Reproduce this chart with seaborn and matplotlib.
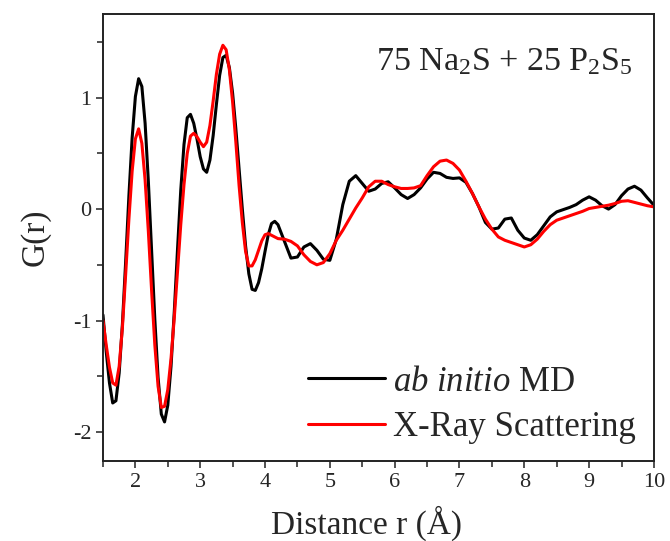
import numpy as np
import pandas as pd
import matplotlib
matplotlib.use("Agg")
import matplotlib.pyplot as plt
import seaborn as sns
from matplotlib.ticker import MultipleLocator

# Distance grid r (Å)
r = [1.50, 1.55, 1.60, 1.65, 1.70, 1.75, 1.80, 1.85, 1.90, 1.95,
     2.00, 2.05, 2.10, 2.15, 2.20, 2.25, 2.30, 2.35, 2.40, 2.45,
     2.50, 2.55, 2.60, 2.65, 2.70, 2.75, 2.80, 2.85, 2.90, 2.95,
     3.00, 3.05, 3.10, 3.15, 3.20, 3.25, 3.30, 3.35, 3.40, 3.45,
     3.50, 3.55, 3.60, 3.65, 3.70, 3.75, 3.80, 3.85, 3.90, 3.95,
     4.00, 4.05, 4.10, 4.15, 4.20,
     4.3, 4.4, 4.5, 4.6, 4.7, 4.8, 4.9, 5.0, 5.1, 5.2, 5.3, 5.4, 5.5,
     5.6, 5.7, 5.8, 5.9, 6.0, 6.1, 6.2, 6.3, 6.4, 6.5, 6.6, 6.7, 6.8,
     6.9, 7.0, 7.1, 7.2, 7.3, 7.4, 7.5, 7.6, 7.7, 7.8, 7.9, 8.0, 8.1,
     8.2, 8.3, 8.4, 8.5, 8.6, 8.7, 8.8, 8.9, 9.0, 9.1, 9.2, 9.3, 9.4,
     9.5, 9.6, 9.7, 9.8, 9.9, 10.0]

# ab initio MD G(r)
g_md = [-0.95, -1.28, -1.56, -1.74, -1.72, -1.47, -1.03, -0.47, 0.12, 0.64,
        1.01, 1.17, 1.10, 0.77, 0.25, -0.37, -0.99, -1.51, -1.84, -1.91,
        -1.76, -1.41, -0.92, -0.36, 0.17, 0.58, 0.82, 0.85, 0.77, 0.63,
        0.47, 0.36, 0.33, 0.44, 0.66, 0.94, 1.20, 1.36, 1.38, 1.27,
        1.04, 0.72, 0.36, 0.00, -0.33, -0.58, -0.72, -0.73, -0.66, -0.535,
        -0.38, -0.23, -0.13, -0.11, -0.14,
        -0.29, -0.44, -0.43, -0.34, -0.31, -0.37, -0.45, -0.46, -0.27, 0.04,
        0.25, 0.30, 0.23, 0.16, 0.18, 0.23, 0.245, 0.19, 0.13, 0.095,
        0.13, 0.19, 0.27, 0.33, 0.32, 0.285, 0.275, 0.28, 0.24, 0.14,
        0.02, -0.12, -0.18, -0.17, -0.09, -0.08, -0.19, -0.26, -0.28, -0.23,
        -0.15, -0.07, -0.025, -0.005, 0.015, 0.04, 0.08, 0.11, 0.08, 0.03,
        0.0, 0.04, 0.12, 0.18, 0.205, 0.17, 0.10, 0.035]

# X-ray scattering G(r)
g_xray = [-1.00, -1.22, -1.42, -1.56, -1.58, -1.41, -1.06, -0.585, -0.09, 0.34,
          0.63, 0.72, 0.59, 0.26, -0.20, -0.73, -1.22, -1.59, -1.78, -1.77,
          -1.62, -1.34, -0.975, -0.56, -0.14, 0.22, 0.50, 0.655, 0.68, 0.65,
          0.60, 0.56, 0.60, 0.75, 0.97, 1.21, 1.39, 1.47, 1.43, 1.25,
          0.96, 0.60, 0.21, -0.12, -0.38, -0.51, -0.51, -0.455, -0.37, -0.285,
          -0.23, -0.22, -0.235, -0.25, -0.265,
          -0.27, -0.29, -0.33, -0.41, -0.47, -0.50, -0.48, -0.40, -0.28, -0.19,
          -0.09, 0.01, 0.10, 0.20, 0.25, 0.25, 0.22, 0.20, 0.185, 0.185,
          0.19, 0.21, 0.30, 0.38, 0.43, 0.44, 0.41, 0.35, 0.25, 0.14,
          0.02, -0.09, -0.18, -0.25, -0.28, -0.30, -0.32, -0.34, -0.32, -0.27,
          -0.20, -0.14, -0.10, -0.08, -0.06, -0.04, -0.02, 0.005, 0.015, 0.025,
          0.035, 0.05, 0.07, 0.075, 0.06, 0.045, 0.03, 0.02]

label_md = "$\\mathit{ab\\ initio}$ MD"
label_xray = "X-Ray Scattering"

df = pd.concat([
    pd.DataFrame({"r": r, "G": g_md, "source": label_md}),
    pd.DataFrame({"r": r, "G": g_xray, "source": label_xray}),
])

sns.set_style("ticks")
plt.rcParams["font.family"] = ["Liberation Serif", "DejaVu Serif"]
plt.rcParams["mathtext.fontset"] = "custom"
plt.rcParams["mathtext.rm"] = "Liberation Serif"
plt.rcParams["mathtext.it"] = "Liberation Serif:italic"
plt.rcParams["axes.unicode_minus"] = False

fig = plt.figure(figsize=(6.7, 5.41), dpi=100)
ax = fig.add_axes([0.1537, 0.148, 0.8223, 0.826])

sns.lineplot(data=df, x="r", y="G", hue="source", sort=False,
             palette={label_md: "black", label_xray: "#ff0000"},
             linewidth=2.2, ax=ax)

ax.set_xlim(1.5, 10)
ax.set_ylim(-2.26, 1.75)
ax.xaxis.set_major_locator(MultipleLocator(1))
ax.xaxis.set_minor_locator(MultipleLocator(0.5))
ax.yaxis.set_major_locator(MultipleLocator(1))
ax.yaxis.set_minor_locator(MultipleLocator(0.5))
ax.tick_params(which="both", direction="out", width=1.1, labelsize=16,
               top=False, right=False, color="#222222")
ax.tick_params(which="major", length=5)
ax.tick_params(which="minor", length=4)
for s in ax.spines.values():
    s.set_linewidth(1.4)
    s.set_color("#222222")

ax.set_xlabel("Distance r (Å)", fontsize=24, labelpad=10)
ax.xaxis.label.set_x(0.479)
ax.set_ylabel("G(r)", fontsize=24, labelpad=16)

ax.text(0.962, 0.875, "75 Na$_2$S + 25 P$_2$S$_5$", transform=ax.transAxes,
        ha="right", va="baseline", fontsize=24.5)

handles, labels = ax.get_legend_handles_labels()
ax.legend(handles, labels, loc="lower right", bbox_to_anchor=(1.012, -0.016),
          frameon=False, fontsize=25, handlelength=2.2, handletextpad=0.25,
          labelspacing=0.35, borderpad=0.2)

fig.savefig("out.png", dpi=100)
